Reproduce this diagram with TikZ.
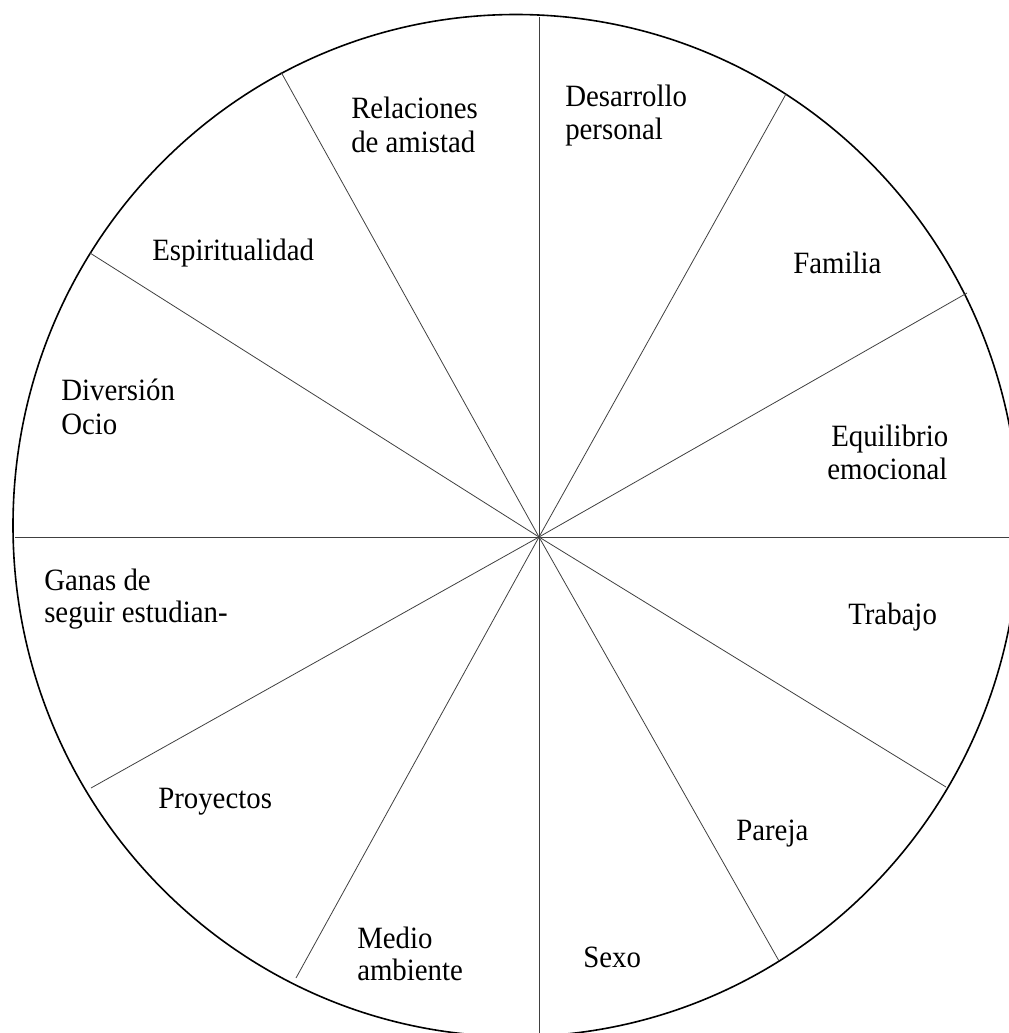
\documentclass[tikz,border=0pt]{standalone}
\usepackage{fontspec}
\setmainfont{Liberation Serif}[FakeStretch=0.93]
\begin{document}
\begin{tikzpicture}[x=0.75pt,y=-0.75pt,
  rim/.style={line width=1.2pt,black},
  spoke/.style={line width=0.6pt,black!75},
  lbl/.style={anchor=base west,inner sep=0pt,text height=0.7em,text depth=0.2em,
    font=\fontsize{23.25}{27}\selectfont}]
\useasboundingbox (0,0) rectangle (1009,1033);
\begin{scope}
\clip (0,0) rectangle (1009,1033);
\draw[rim] (516,525.5) ellipse [x radius=503, y radius=511];
\coordinate (c) at (539,537);
\coordinate (e1) at (539,17);
\coordinate (e2) at (786,94);
\coordinate (e3) at (967,293);
\coordinate (e4) at (1012,537);
\coordinate (e5) at (946,787);
\coordinate (e6) at (779,961);
\coordinate (e7) at (539,1036);
\coordinate (e8) at (296,978);
\coordinate (e9) at (91,788);
\coordinate (e10) at (15,537);
\coordinate (e11) at (90,253);
\coordinate (e12) at (281,72);
\foreach \i in {1,...,12} \draw[spoke] (c) -- (e\i);
\end{scope}
\node[lbl] (t1a) at (351,118) {Relaciones};
\node[lbl] (t1b) at (351,152) {de amistad};
\node[lbl] (t2a) at (565,106) {Desarrollo};
\node[lbl] (t2b) at (565,139) {personal};
\node[lbl] (t3) at (152,260) {Espiritualidad};
\node[lbl] (t4) at (793,273) {Familia};
\node[lbl] (t5a) at (61,400) {Diversión};
\node[lbl] (t5b) at (61,434) {Ocio};
\node[lbl] (t6a) at (831,446) {Equilibrio};
\node[lbl] (t6b) at (827,479) {emocional};
\node[lbl] (t7a) at (44,590) {Ganas de};
\node[lbl] (t7b) at (44,622) {seguir estudian-};
\node[lbl] (t8) at (848,624) {Trabajo};
\node[lbl] (t9) at (158,808) {Proyectos};
\node[lbl] (t10) at (736,840) {Pareja};
\node[lbl] (t11a) at (357,948) {Medio};
\node[lbl] (t11b) at (357,980) {ambiente};
\node[lbl] (t12) at (583,967) {Sexo};
\end{tikzpicture}
\end{document}
